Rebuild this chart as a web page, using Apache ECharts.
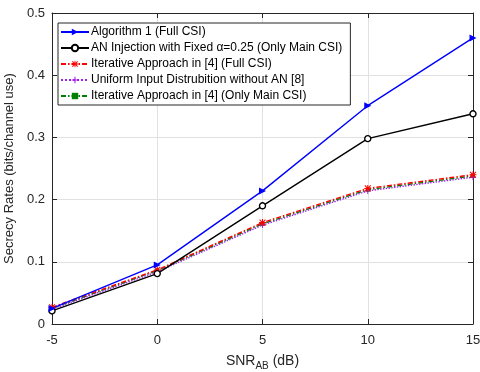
<!DOCTYPE html>
<html>
<head>
<meta charset="utf-8">
<script src="https://cdn.jsdelivr.net/npm/echarts@6/dist/echarts.min.js"></script>
<style>
  html, body { margin: 0; padding: 0; background: #fff; }
  #chart { width: 480px; height: 372px; }
</style>
</head>
<body>
<div id="chart"></div>
<script>
// SNR_AB (dB)
const snr = [-5, 0, 5, 10, 15];

const algorithm1 = [0.025, 0.095, 0.214, 0.351, 0.460];
const anFixed = [0.021, 0.081, 0.190, 0.298, 0.338];
const iterFull = [0.027, 0.087, 0.163, 0.218, 0.240];
const uniformNoAN = [0.024, 0.084, 0.159, 0.214, 0.236];
const iterMain = [0.025, 0.086, 0.161, 0.216, 0.238];

const names = [
  'Algorithm 1 (Full CSI)',
  'AN Injection with Fixed α=0.25 (Only Main CSI)',
  'Iterative Approach in [4] (Full CSI)',
  'Uniform Input Distrubition without AN [8]',
  'Iterative Approach in [4] (Only Main CSI)',
];

const FONT = 'Liberation Sans, Arial, sans-serif';

// marker shapes
const triRight = 'path://M0,0L10,5L0,10Z';
const star = 'path://M4.3,0H5.7V10H4.3Z M0,4.3H10V5.7H0Z M1.3,0.3L9.7,8.7L8.7,9.7L0.3,1.3Z M8.7,0.3L9.7,1.3L1.3,9.7L0.3,8.7Z';
const plus = 'path://M4.2,0H5.8V10H4.2Z M0,4.2H10V5.8H0Z';

function pairs(ys) {
  return snr.map((x, i) => [x, ys[i]]);
}

function makeSeries(name, ys, color, type, symbol, size, fill, border) {
  return {
    name,
    type: 'line',
    data: pairs(ys),
    symbol,
    symbolSize: size,
    showSymbol: true,
    lineStyle: { color, width: 1.4, type },
    itemStyle: { color: fill, borderColor: color, borderWidth: border },
    emphasis: { disabled: true },
  };
}

const chart = echarts.init(document.getElementById('chart'));

const axisCommon = {
  type: 'value',
  axisLine: { show: true, onZero: false, lineStyle: { color: '#262626', width: 1 } },
  axisTick: { show: true, inside: true, length: 5, lineStyle: { color: '#262626' } },
  axisLabel: { color: '#262626', fontFamily: FONT, fontSize: 13 },
};

chart.setOption({
  animation: false,
  backgroundColor: '#fff',
  grid: { left: 52, right: 7, top: 13, bottom: 48, containLabel: false, outerBoundsMode: 'none' },
  legend: {
    orient: 'vertical',
    left: 58,
    top: 23,
    data: names,
    itemWidth: 28,
    itemHeight: 8,
    itemGap: 4,
    padding: [3, 8, 3, 2],
    backgroundColor: '#fff',
    borderColor: '#262626',
    borderWidth: 1,
    borderRadius: 0,
    textStyle: { fontFamily: FONT, fontSize: 12, color: '#000', padding: [0, 0, 0, -3] },
  },
  xAxis: [
    Object.assign({}, axisCommon, {
      min: -5, max: 15, interval: 5,
      position: 'bottom',
      axisLabel: Object.assign({}, axisCommon.axisLabel, { margin: 10 }),
      splitLine: { show: true, lineStyle: { color: '#e1e1e1', width: 1 } },
      name: '{a|SNR}{b|AB}{a| (dB)}',
      nameLocation: 'middle',
      nameGap: 28,
      nameTextStyle: {
        rich: {
          a: { fontFamily: FONT, fontSize: 14, color: '#262626' },
          b: { fontFamily: FONT, fontSize: 10, color: '#262626', padding: [9, 0, 0, 0] },
        },
      },
    }),
    Object.assign({}, axisCommon, {
      min: -5, max: 15, interval: 5,
      position: 'top',
      axisLabel: { show: false },
      splitLine: { show: false },
    }),
  ],
  yAxis: [
    Object.assign({}, axisCommon, {
      min: 0, max: 0.5, interval: 0.1,
      position: 'left',
      axisLabel: Object.assign({}, axisCommon.axisLabel, { margin: 7 }),
      splitLine: { show: true, lineStyle: { color: '#e1e1e1', width: 1 } },
      name: 'Secrecy Rates (bits/channel use)',
      nameLocation: 'middle',
      nameGap: 36,
      nameTextStyle: { fontFamily: FONT, fontSize: 13, color: '#262626' },
    }),
    Object.assign({}, axisCommon, {
      min: 0, max: 0.5, interval: 0.1,
      position: 'right',
      axisLabel: { show: false },
      splitLine: { show: false },
    }),
  ],
  series: [
    makeSeries(names[4], iterMain, '#008000', [5, 2, 1.5, 2], 'rect', 4, '#008000', 0),
    makeSeries(names[3], uniformNoAN, '#a020f0', 'dotted', plus, 6, '#a020f0', 0),
    makeSeries(names[2], iterFull, '#ff0000', [5, 2, 1.5, 2], star, 7, '#ff0000', 0),
    makeSeries(names[1], anFixed, '#000000', 'solid', 'circle', 6, '#ffffff', 1.4),
    makeSeries(names[0], algorithm1, '#0000ff', 'solid', triRight, 7, '#0000ff', 0),
  ],
});
</script>
</body>
</html>
